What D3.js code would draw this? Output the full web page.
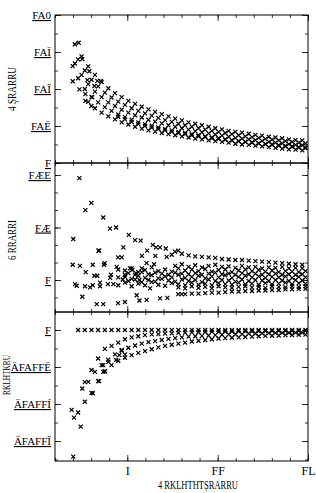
<!DOCTYPE html>
<html>
<head>
<meta charset="utf-8">
<script src="https://cdn.jsdelivr.net/npm/d3@7"></script>
<style>
  body { margin: 0; background: #fff; }
  text { font-family: "Liberation Serif", "DejaVu Serif", serif; fill: #000; }
</style>
</head>
<body>
<svg id="chart"></svg>
<script>
// chart size
const svgWidth = 316;
const svgHeight = 493;
const svg = d3.select("#chart")
  .attr("width", svgWidth)
  .attr("height", svgHeight);

// x positions of the two interleaved point grids
const gridA = [2.10, 2.47, 2.84, 3.21, 3.58, 3.95, 4.32, 4.69, 5.06, 5.43, 5.80, 6.17, 6.54, 6.91, 7.28, 7.65, 8.02, 8.39, 8.76, 9.13, 9.50, 9.87, 10.24, 10.61, 10.98, 11.35, 11.72, 12.09, 12.46, 12.83, 13.20, 13.57, 13.94, 14.31, 14.68];
const gridB = [2.28, 2.65, 3.02, 3.39, 3.76, 4.13, 4.50, 4.87, 5.24, 5.61, 5.98, 6.35, 6.72, 7.09, 7.46, 7.83, 8.20, 8.57, 8.94, 9.31, 9.68, 10.05, 10.42, 10.79, 11.16, 11.53, 11.90, 12.27, 12.64, 13.01, 13.38, 13.75, 14.12, 14.49, 14.86];

// top panel values
const topA1 = [.321, .288, .261, .238, .219, .202, .189, .178, .168, .16, .152, .145, .138, .132, .126, .12, .115, .11, .106, .102, .098, .094, .091, .087, .084, .082, .079, .076, .074, .071, .069, .067, .064, .062, .061];
const topB1 = [.28, .25, .225, .207, .19, .177, .166, .157, .148, .141, .134, .128, .122, .116, .111, .106, .102, .098, .094, .09, .087, .084, .081, .078, .075, .072, .07, .068, .065, .063, .061, .059, .057, .055, .053];
const topA2 = [.269, .238, .213, .193, .178, .164, .154, .144, .136, .129, .123, .117, .112, .107, .102, .098, .094, .09, .086, .083, .08, .077, .074, .071, .068, .066, .064, .062, .06, .057, .055, .053, .051, .049, .048];
const topB2 = [.229, .2, .178, .164, .151, .141, .131, .124, .117, .11, .105, .101, .096, .092, .088, .084, .081, .078, .075, .072, .069, .067, .064, .062, .059, .057, .056, .053, .051, .049, .047, .045, .044, .042, .04];
const topA3 = [.165, .148, .136, .126, .118, .11, .104, .098, .093, .088, .085, .081, .078, .075, .072, .069, .066, .064, .061, .059, .057, .055, .052, .05, .049, .047, .045, .043, .041, .039, .037, .036, .034];
const topB3 = [.125, .118, .111, .105, .1, .096, .092, .088, .084, .081, .078, .075, .072, .07, .067, .065, .063, .061, .059, .057, .055, .053, .051, .05, .048, .046, .045, .043, .042];
const topExtraX = [1.98, 1.98, 2.31, 2.35, 2.51, 2.68, 2.68, 2.79, 2.9, 3.06, 3.01, 3.18, 3.34, 3.53];
const topExtraY = [.262, .221, .325, .199, .281, .186, .168, .224, .248, .178, .154, .208, .222, .222];

// middle panel values
const midB1 = [0.2, 0.18, 0.22, 0.15, 0.19, 0.24, 0.17, 0.2, 0.16, 0.22, 0.18, 0.2, 0.17, 0.21, 0.16, 0.19, 0.2, 0.15, 0.18, 0.2, 0.17, 0.19, 0.16, 0.18, 0.15, 0.17, 0.16, 0.15, 0.17];
const midB2 = [0.05, 0.1, 0.02, 0.08, 0.04, 0.09, 0.03, 0.07, 0.05, 0.1, 0.04, 0.06, 0.08, 0.03, 0.07, 0.05, 0.09, 0.04, 0.06, 0.08, 0.05, 0.07, 0.04, 0.06, 0.05, 0.07, 0.04, 0.06, 0.05];
const midB3 = [-0.1, -0.05, -0.12, -0.07, -0.1, -0.04, -0.09, -0.11, -0.06, -0.08, -0.1, -0.05, -0.09, -0.07, -0.1, -0.06, -0.08, -0.09, -0.05, -0.08, -0.07, -0.09, -0.06, -0.08, -0.07, -0.05, -0.08, -0.06, -0.07];
const midB4 = [-0.27, -0.26, -0.26, -0.25, -0.24, -0.24, -0.23, -0.22, -0.22, -0.21, -0.21, -0.2, -0.2, -0.19, -0.19, -0.18, -0.18, -0.17, -0.17];
const midB5 = [-0.14, -0.16, -0.12, -0.15, -0.13, -0.16, -0.12, -0.14, -0.15, -0.13, -0.12, -0.14, -0.13, -0.15, -0.12, -0.13, -0.14, -0.12, -0.13, -0.12];
const midA1 = [0.13, 0.1, 0.15, 0.11, 0.14, 0.12, 0.1, 0.14, 0.12, 0.11, 0.13, 0.1, 0.12, 0.14, 0.11, 0.12, 0.1, 0.13, 0.11, 0.12, 0.1, 0.11, 0.12, 0.1, 0.11, 0.1, 0.11];
const midA2 = [-0.02, 0.01, -0.04, 0, -0.03, 0.02, -0.01, -0.03, 0.01, -0.02, 0, -0.04, 0.01, -0.02, 0, -0.01, -0.03, 0.01, -0.02, 0, -0.01, -0.02, 0, -0.01, -0.02, 0, -0.01];
const midA3 = [0.5, 0.47, 0.45, 0.44, 0.43, 0.42, 0.4, 0.39, 0.38, 0.38, 0.37, 0.36, 0.35, 0.34, 0.33, 0.32, 0.31, 0.3, 0.29];
const midA4 = [0.27, 0.3, 0.25, 0.28, 0.24, 0.27, 0.29, 0.25, 0.26, 0.23, 0.27, 0.24, 0.25, 0.22, 0.24, 0.23, 0.25, 0.22, 0.23, 0.22];
const midExtraX = [2.35, 2.01, 1.98, 2.68, 3.01, 2.38, 2.11, 2.2, 2.51, 2.7, 2.66, 2.94, 3.09, 3.09, 3.18, 3.34, 3.31, 3.67, 3.4, 3.45, 3.67, 3.49, 3.49, 3.71, 3.75, 4.04, 4.38, 4.1, 4.05, 3.93, 4.23, 4.41, 4.49, 4.69, 4.78, 4.49, 4.87, 4.75, 4.87, 5.08, 5.15, 5.28, 5.43, 5.74, 5.52, 5.67, 6.07, 5.81, 6.1, 5.8, 6.07, 5.48, 5.67, 6.26, 6.41, 6.59, 6.55, 6.48, 6.81, 7.22, 6.81, 7.13, 7.18, 7.46, 7.64, 7.82, 7.82, 8.01];
const midExtraY = [1.94, 0.78, 0.29, 1.33, 1.47, 0.27, -0.08, -0.11, -0.32, 0.15, -0.12, -0.14, -0.1, 0.29, 0.08, 0.08, -0.46, -0.46, 0.56, 0.56, 1.19, -0.05, -0.12, 0.29, 0.32, 0.98, 1.0, 0.1, 0.04, -0.08, -0.08, 0.25, 0.43, 0.43, 0.62, -0.44, -0.42, 0.01, 0.06, 0.86, 0.22, 0.19, 0.76, 0.75, -0.29, -0.39, -0.38, 0.46, 0.56, 0.22, 0.32, 0.13, 0, -0.16, 0.67, 0.62, 0.46, 0.3, -0.35, -0.34, 0.62, 0.6, 0.44, 0.48, 0.54, 0.56, -0.27, -0.27];

// bottom panel values
const botRow = [0, 0, 0, 0, 0, 0, 0, 0, 0, 0, 0, 0, 0, 0, 0, 0, 0, 0, 0, 0, 0, 0, 0, 0, 0, 0, 0, 0, 0, 0, 0, 0, 0, 0, 0];
const botLow = [-2.23, -1.94, -1.7, -1.38, -1.12, -0.95, -0.83, -0.75, -0.68, -0.62, -0.57, -0.52, -0.47, -0.43, -0.4, -0.37, -0.34, -0.31, -0.29, -0.27, -0.25, -0.23, -0.22, -0.21, -0.2, -0.19, -0.18, -0.17, -0.16, -0.155, -0.15, -0.14, -0.135, -0.13, -0.125];
const botMid = [-1.4, -1.13, -0.95, -0.8, -0.66, -0.56, -0.48, -0.42, -0.37, -0.33, -0.3, -0.27, -0.24, -0.22, -0.2, -0.18, -0.17, -0.16, -0.15, -0.14, -0.13, -0.12, -0.115, -0.11, -0.1, -0.095, -0.09, -0.085, -0.08, -0.078, -0.075, -0.072, -0.07];
const botUp = [-1.41, -1.08, -0.77, -0.51, -0.43, -0.34, -0.25, -0.2, -0.17, -0.14, -0.12, -0.11, -0.1, -0.09, -0.08, -0.07, -0.065, -0.06, -0.055, -0.05, -0.045, -0.042, -0.04, -0.037, -0.035, -0.033, -0.03, -0.028, -0.026, -0.025, -0.024, -0.022, -0.021, -0.02];
const botExtraX = [1.92, 2.05, 2.42, 2.01, 2.51, 3.09, 3.44, 3.67, 3.77, 3.67, 3.95, 4.56, 4.38, 4.69, 4.87];
const botExtraY = [-2.16, -2.37, -2.61, -3.42, -1.58, -1.71, -1.38, -1.13, -1.11, -0.95, -0.86, -0.68, -0.81, -0.54, -0.66];

// tick labels (as printed in the figure)
const xTickValues = [5, 10, 15];
const xTickLabels = ["I", "FF", "FL"];
const topTickValues = [0, 0.1, 0.2, 0.3, 0.4];
const topTickLabels = ["F", "FAË", "FAÎ", "FAÏ", "FA0"];
const midTickValues = [0, 1, 2];
const midTickLabels = ["F", "FÆ", "FÆE"];
const botTickValues = [0, -1, -2, -3];
const botTickLabels = ["F", "ÄFAFFË", "ÄFAFFÍ", "ÄFAFFÎ"];

// layout
const plotLeft = 55, plotRight = 308;
const x = d3.scaleLinear().domain([1, 15]).range([plotLeft, plotRight]);

const panels = [
  { top: 15, bottom: 163, domain: [0, 0.4], ticks: topTickValues, labels: topTickLabels, minor: d3.range(0, 0.401, 0.05),
    series: [[gridA, topA1], [gridB, topB1], [gridA, topA2], [gridB, topB2], [gridA, topA3], [gridB, topB3], [topExtraX, topExtraY]],
    title: "4 ȘRARRU", tx: 16, ty: 89, tlen: 44, fs: 13 },
  { top: 163, bottom: 312, domain: [-0.61, 2.229], ticks: midTickValues, labels: midTickLabels, minor: d3.range(-1 / 3, 2.22, 1 / 3),
    series: [[gridB, midB1], [gridB, midB2], [gridB, midB3], [gridB, midB4], [gridB, midB5], [gridA, midA1], [gridA, midA2], [gridA, midA3], [gridA, midA4], [midExtraX, midExtraY]],
    title: "6 RRARRI", tx: 16, ty: 240, tlen: 40, fs: 13 },
  { top: 312, bottom: 461, domain: [-3.54, 0.486], ticks: botTickValues, labels: botTickLabels, minor: d3.range(-3.5, 0.01, 0.5),
    series: [[gridB, botRow], [gridB, botLow], [gridA, botMid], [gridB, botUp], [botExtraX, botExtraY]],
    title: "RKLHTKRU", tx: 10, ty: 375, tlen: 40, fs: 10 }
];

const xMinor = d3.range(1, 15.01, 1);

panels.forEach((p, pi) => {
  const y = d3.scaleLinear().domain(p.domain).range([p.bottom, p.top]);
  const g = svg.append("g");

  // points: pair each y array with the tail of its x grid
  const pts = [];
  p.series.forEach(([xs, ys]) => {
    const off = xs.length - ys.length;
    ys.forEach((v, i) => pts.push([xs[i + off], v]));
  });
  g.selectAll(".pt")
    .data(pts)
    .enter()
    .append("path")
    .attr("class", "pt")
    .attr("transform", d => `translate(${x(d[0])},${y(d[1])})`)
    .attr("d", "M-2,-2L2,2M-2,2L2,-2")
    .attr("stroke", "black")
    .attr("stroke-width", 1.2)
    .attr("fill", "none");

  // major and minor ticks on all four sides, pointing inward
  const left = g.append("g").attr("transform", `translate(${plotLeft},0)`)
    .call(d3.axisLeft(y).tickValues(p.ticks).tickSize(-6).tickPadding(4)
      .tickFormat((d, i) => p.labels[i]));
  left.selectAll("text").attr("font-size", 11).attr("text-decoration", "underline");
  g.append("g").attr("transform", `translate(${plotLeft},0)`)
    .call(d3.axisLeft(y).tickValues(p.minor).tickSize(-3).tickFormat(""));
  g.append("g").attr("transform", `translate(${plotRight},0)`)
    .call(d3.axisRight(y).tickValues(p.ticks).tickSize(-6).tickFormat(""));
  g.append("g").attr("transform", `translate(${plotRight},0)`)
    .call(d3.axisRight(y).tickValues(p.minor).tickSize(-3).tickFormat(""));

  g.append("g").attr("transform", `translate(0,${p.top})`)
    .call(d3.axisTop(x).tickValues(xTickValues).tickSize(-6).tickFormat(""));
  g.append("g").attr("transform", `translate(0,${p.top})`)
    .call(d3.axisTop(x).tickValues(xMinor).tickSize(-3).tickFormat(""));
  const bottomAxis = g.append("g").attr("transform", `translate(0,${p.bottom})`)
    .call(d3.axisBottom(x).tickValues(xTickValues).tickSize(-6).tickPadding(5)
      .tickFormat((d, i) => pi === 2 ? xTickLabels[i] : ""));
  bottomAxis.selectAll("text").attr("font-size", 12);
  g.append("g").attr("transform", `translate(0,${p.bottom})`)
    .call(d3.axisBottom(x).tickValues(xMinor).tickSize(-3).tickFormat(""));

  g.selectAll(".domain").remove();
  g.selectAll(".tick line").attr("stroke", "black").attr("stroke-width", 0.8);

  // frame
  g.append("rect")
    .attr("x", plotLeft)
    .attr("y", p.top)
    .attr("width", plotRight - plotLeft)
    .attr("height", p.bottom - p.top)
    .attr("fill", "none")
    .attr("stroke", "black")
    .attr("stroke-width", 1);

  // y title
  svg.append("text")
    .attr("transform", `translate(${p.tx},${p.ty}) rotate(-90)`)
    .attr("text-anchor", "middle")
    .attr("font-size", p.fs)
    .attr("textLength", p.tlen)
    .attr("lengthAdjust", "spacingAndGlyphs")
    .text(p.title);
});

// x title
svg.append("text")
  .attr("x", 158)
  .attr("y", 489)
  .attr("font-size", 13)
  .attr("textLength", 80)
  .attr("lengthAdjust", "spacingAndGlyphs")
  .text("4 RKLHTHTȘRARRU");
</script>
</body>
</html>
